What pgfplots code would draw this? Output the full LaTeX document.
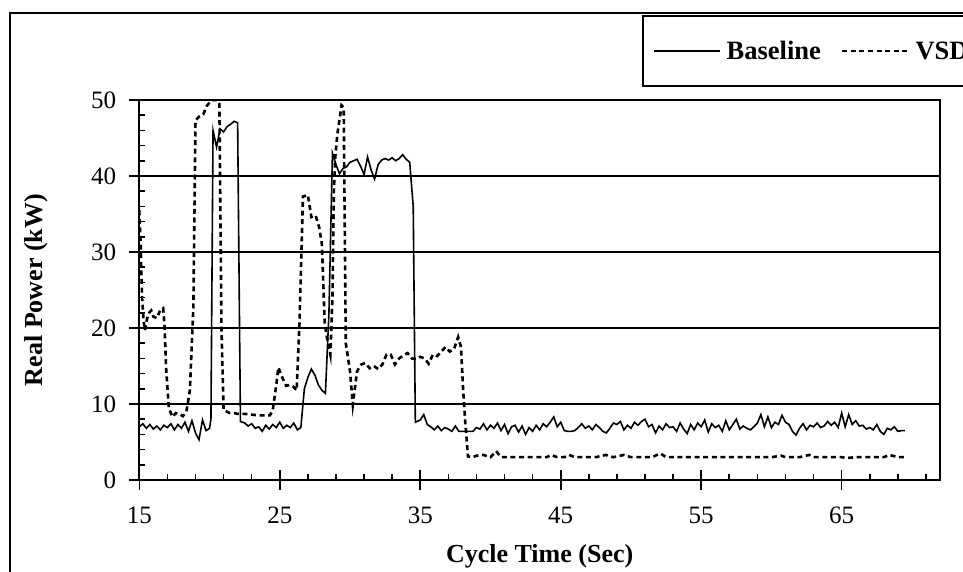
\documentclass[border=0pt]{standalone}
\usepackage{fontspec}
\setmainfont{Liberation Serif}
\usepackage{pgfplots}
\pgfplotsset{compat=1.18}

% 1 px of the reference = 0.5pt
\pgfplotstableread{
t P
15.0 7.0
15.25 7.4
15.5 6.8
15.75 7.3
16.0 6.7
16.25 7.1
16.5 6.6
16.75 7.2
17.0 6.9
17.25 7.4
17.5 6.6
17.75 7.3
18.0 6.8
18.25 7.6
18.5 6.4
18.75 7.8
19.0 6.2
19.25 5.3
19.5 7.9
19.75 6.5
20.0 6.8
20.1 8.0
20.25 46.0
20.5 43.8
20.75 46.2
21.0 45.8
21.25 46.5
21.5 46.8
21.75 47.2
22.0 47.0
22.2 7.7
22.5 7.5
22.75 7.1
23.0 7.4
23.25 6.8
23.5 7.0
23.75 6.4
24.0 7.2
24.25 6.7
24.5 7.3
24.75 6.9
25.0 7.6
25.25 6.8
25.5 7.2
25.75 6.9
26.0 7.5
26.25 6.6
26.5 6.9
26.75 12.0
27.0 13.5
27.25 14.6
27.5 13.8
27.75 12.5
28.0 11.8
28.25 11.4
28.5 22.0
28.75 43.0
29.0 41.5
29.25 40.3
29.5 41.0
29.75 41.2
30.0 41.8
30.25 42.0
30.5 42.2
30.75 41.3
31.0 40.2
31.25 42.5
31.5 40.8
31.75 39.6
32.0 41.5
32.25 42.1
32.5 42.3
32.75 42.1
33.0 42.4
33.25 42.0
33.5 42.3
33.75 42.8
34.0 42.2
34.25 41.8
34.5 36.0
34.65 7.6
35.0 7.9
35.25 8.6
35.5 7.3
35.75 7.0
36.0 6.6
36.25 7.1
36.5 6.5
36.75 6.9
37.0 6.7
37.25 6.4
37.5 7.1
37.75 6.4
38.0 6.4
38.25 6.4
38.5 6.4
38.75 6.4
39.0 6.9
39.25 6.7
39.5 7.4
39.75 6.6
40.0 7.2
40.25 6.8
40.5 7.5
40.75 6.5
41.0 7.3
41.25 6.1
41.5 7.0
41.75 7.2
42.0 6.3
42.25 7.1
42.5 6.0
42.75 6.9
43.0 6.4
43.25 7.2
43.5 6.6
43.75 7.4
44.0 7.0
44.25 7.6
44.5 8.3
44.75 7.0
45.0 7.6
45.25 6.5
45.5 6.4
45.75 6.4
46.0 6.5
46.25 6.9
46.5 7.4
46.75 6.8
47.0 7.1
47.25 6.6
47.5 7.3
47.75 6.9
48.0 6.4
48.25 6.2
48.5 6.8
48.75 7.5
49.0 7.3
49.25 7.7
49.5 6.6
49.75 7.2
50.0 6.8
50.25 7.6
50.5 7.2
50.75 7.7
51.0 8.0
51.25 7.0
51.5 7.3
51.75 6.2
52.0 7.1
52.25 6.6
52.5 7.4
52.75 6.9
53.0 7.0
53.25 6.4
53.5 7.5
53.75 6.7
54.0 6.1
54.25 7.3
54.5 6.6
54.75 7.5
55.0 7.0
55.25 7.9
55.5 6.3
55.75 7.4
56.0 6.9
56.25 7.2
56.5 6.4
56.75 7.8
57.0 6.6
57.25 7.3
57.5 8.0
57.75 6.7
58.0 7.1
58.25 6.8
58.5 6.6
58.75 7.0
59.0 7.5
59.25 8.6
59.5 7.0
59.75 8.3
60.0 6.9
60.25 7.6
60.5 7.3
60.75 8.5
61.0 7.6
61.25 7.3
61.5 6.4
61.75 5.9
62.0 6.8
62.25 7.4
62.5 6.6
62.75 7.2
63.0 7.0
63.25 7.5
63.5 6.9
63.75 7.1
64.0 7.7
64.25 7.2
64.5 7.6
64.75 6.9
65.0 8.8
65.25 7.0
65.5 8.6
65.75 7.3
66.0 7.8
66.25 7.1
66.5 7.2
66.75 6.7
67.0 6.9
67.25 6.6
67.5 7.3
67.75 6.4
68.0 6.0
68.25 6.8
68.5 6.6
68.75 7.0
69.0 6.4
69.25 6.5
69.5 6.5
}\baseline

\pgfplotstableread{
t P
15.0 35.5
15.05 33.0
15.1 31.0
15.15 27.0
15.2 24.0
15.3 21.0
15.4 19.7
15.55 21.2
15.7 22.0
15.85 22.3
16.0 21.5
16.25 21.3
16.5 22.4
16.7 22.6
16.8 20.2
16.9 15.0
17.1 9.5
17.35 8.3
17.6 8.8
17.85 8.7
18.1 8.4
18.35 9.0
18.6 11.8
18.85 22.8
19.0 47.3
19.25 47.8
19.55 48.1
19.8 49.2
20.15 50.0
20.5 50.0
20.7 49.5
20.85 20.0
21.0 9.2
21.45 8.8
21.75 8.8
22.0 8.7
22.5 8.7
23.0 8.6
23.5 8.5
24.0 8.5
24.3 8.5
24.5 9.2
24.75 12.5
24.9 14.8
25.2 13.4
25.45 12.4
25.7 12.5
25.95 12.3
26.2 11.8
26.4 20.5
26.65 37.3
27.0 37.5
27.25 34.6
27.55 34.8
27.8 33.3
28.0 31.0
28.2 20.5
28.4 18.3
28.6 16.5
28.75 24.0
28.85 38.0
28.95 42.5
29.1 45.5
29.4 49.3
29.55 49.0
29.7 18.0
30.0 14.3
30.2 9.9
30.5 14.3
30.8 15.2
31.1 15.4
31.4 14.7
31.7 15.0
32.0 14.6
32.3 15.2
32.6 16.5
32.9 16.5
33.2 15.2
33.5 16.0
33.8 16.4
34.1 16.7
34.4 16.0
34.7 15.9
35.0 16.2
35.3 16.0
35.6 15.3
35.9 16.5
36.2 16.3
36.5 16.9
36.8 17.5
37.1 16.9
37.4 17.2
37.7 18.8
37.9 17.5
38.05 12.0
38.2 7.7
38.4 3.1
38.75 3.0
39.0 3.2
39.5 3.3
40.0 3.0
40.4 3.8
40.75 3.0
41.5 3.0
42.0 3.0
42.5 3.0
43.0 3.0
43.5 3.0
44.0 3.0
44.3 3.3
44.75 3.0
45.25 3.0
45.6 3.3
46.0 3.0
46.5 3.0
47.0 3.0
47.5 3.0
48.2 3.3
48.75 3.0
49.5 3.3
50.0 3.0
50.5 3.0
51.0 3.0
51.5 3.0
52.1 3.5
52.5 3.0
53.0 3.0
53.5 3.0
54.0 3.0
54.5 3.0
55.0 3.0
55.5 3.0
56.0 3.0
56.5 3.0
57.0 3.0
57.5 3.0
58.0 3.0
58.5 3.0
59.0 3.0
59.5 3.0
60.0 3.0
60.7 3.2
61.0 3.0
61.5 3.0
62.0 3.0
62.7 3.3
63.0 3.0
63.5 3.0
64.0 3.0
64.5 3.0
65.0 3.0
65.4 2.9
66.0 3.0
66.5 3.0
67.0 3.0
67.5 3.0
68.0 3.0
68.4 3.3
69.0 3.0
69.5 3.0
}\vsd

\begin{document}
\begin{tikzpicture}
\useasboundingbox (0,0) rectangle (481.5pt,286pt);
\clip (0,0) rectangle (481.5pt,286pt);
% outer chart frame
\draw[line width=1pt] (5pt,-10pt) -- (5pt,279.5pt) -- (500pt,279.5pt);
\begin{axis}[
  at={(69.65pt,46pt)}, anchor=south west,
  scale only axis, width=400.35pt, height=190pt,
  xmin=15, xmax=72, ymin=0, ymax=50,
  xtick={15,25,...,65}, ytick={0,10,...,50},
  minor xtick={17,19,...,71},
  minor ytick={2,4,6,8,12,14,16,18,22,24,26,28,32,34,36,38,42,44,46,48},
  tick align=center,
  major tick length=10pt, minor tick length=3pt,
  minor x tick style={yshift=1.5pt},
  minor y tick style={xshift=1.5pt},
  tick style={black, line width=0.8pt},
  xtick pos=bottom, ytick pos=left,
  ymajorgrids, grid style={black, line width=1pt},
  axis line style={line width=1pt},
  /pgf/number format/assume math mode=true,
  tick label style={font=\fontsize{12.5}{14}\selectfont},
  xticklabel style={yshift=-5pt},
  yticklabel style={xshift=-3pt},
  xlabel={\textbf{Cycle Time (Sec)}},
  ylabel={\textbf{Real Power (kW)}},
  label style={font=\fontsize{13}{15}\selectfont},
  xlabel style={at={(axis description cs:0.5,-0.2158)}, anchor=base},
  ylabel style={at={(axis description cs:-0.129,0.5)}, anchor=center},
  legend columns=-1,
  legend style={at={(axis description cs:0.628,1.2237)}, anchor=north west,
    draw=black, line width=1pt, inner xsep=5pt, inner ysep=13pt,
    font=\fontsize{13.25}{15}\bfseries,
    nodes={inner xsep=3pt, inner ysep=0pt, text height=9pt, text depth=0pt},
    /tikz/every even column/.append style={column sep=7pt}},
  legend image code/.code={\draw[#1] (0pt,0pt) -- (33pt,0pt);},
]
\addplot[black, line width=0.8pt] table[x=t, y=P] {\baseline};
\addlegendentry{Baseline}
\addplot[black, line width=1.3pt, dash pattern=on 2.5pt off 1.8pt] table[x=t, y=P] {\vsd};
\addlegendentry{VSD}
\end{axis}
\end{tikzpicture}
\end{document}
